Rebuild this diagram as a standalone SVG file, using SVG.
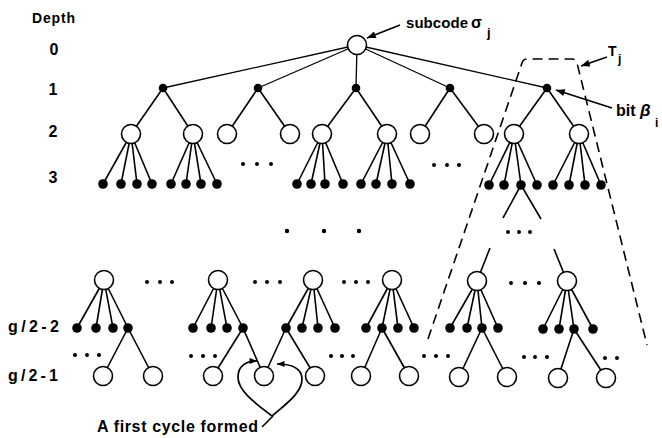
<svg xmlns="http://www.w3.org/2000/svg" width="662" height="438" viewBox="0 0 662 438">
  <style>
    text { font-family: "Liberation Sans", Arial, sans-serif; font-weight: bold; fill: #000; }
    .e { stroke: #000; stroke-width: 1.6; fill: none; }
    .et { stroke: #000; stroke-width: 1.3; fill: none; }
    .open { fill: #fff; stroke: #000; stroke-width: 1.6; }
    .dot { fill: #000; }
    .ell { fill: #000; }
    .dash { fill: none; stroke: #000; stroke-width: 1.6; stroke-dasharray: 10 6; }
    .arr { stroke: #000; stroke-width: 1.8; fill: none; marker-end: url(#ah); }
    .harr { stroke: #000; stroke-width: 1.7; fill: none; marker-end: url(#ahs); }
  </style>
  <defs>
    <marker id="ah" viewBox="0 0 10 8" refX="10" refY="4" markerWidth="10" markerHeight="7" markerUnits="userSpaceOnUse" orient="auto">
      <path d="M0,0 L10,4 L0,8 z" fill="#000"/>
    </marker>
    <marker id="ahs" viewBox="0 0 10 8" refX="10" refY="4" markerWidth="8" markerHeight="6" markerUnits="userSpaceOnUse" orient="auto">
      <path d="M0,0 L10,4 L0,8 z" fill="#000"/>
    </marker>
  </defs>

  <!-- depth scale -->
  <g id="depth-labels">
    <text x="32" y="23" font-size="14" textLength="43" lengthAdjust="spacing">Depth</text>
    <text x="54" y="55" font-size="16" text-anchor="middle">0</text>
    <text x="53" y="95" font-size="16" text-anchor="middle">1</text>
    <text x="53" y="137" font-size="16" text-anchor="middle">2</text>
    <text x="53" y="183" font-size="16" text-anchor="middle">3</text>
    <text x="8" y="332" font-size="16" textLength="51" lengthAdjust="spacing">g/2-2</text>
    <text x="8" y="381" font-size="16" textLength="50" lengthAdjust="spacing">g/2-1</text>
  </g>

  <!-- connectors -->
  <g id="connectors">
    <!-- root to depth 1 -->
    <line class="et" x1="357" y1="45" x2="163" y2="88"/>
    <line class="et" x1="357" y1="45" x2="258" y2="88"/>
    <line class="et" x1="357" y1="45" x2="356" y2="88"/>
    <line class="et" x1="357" y1="45" x2="450" y2="88"/>
    <line class="et" x1="357" y1="45" x2="547" y2="88"/>
    <!-- depth 1 to depth 2 -->
    <line class="e" x1="163" y1="88" x2="131" y2="134"/>
    <line class="e" x1="163" y1="88" x2="193" y2="134"/>
    <line class="e" x1="258" y1="88" x2="227" y2="134"/>
    <line class="e" x1="258" y1="88" x2="290" y2="134"/>
    <line class="e" x1="356" y1="88" x2="322" y2="134"/>
    <line class="e" x1="356" y1="88" x2="387" y2="134"/>
    <line class="e" x1="450" y1="88" x2="420" y2="134"/>
    <line class="e" x1="450" y1="88" x2="484" y2="134"/>
    <line class="e" x1="547" y1="88" x2="514" y2="134"/>
    <line class="e" x1="547" y1="88" x2="579" y2="134"/>
    <!-- depth 2 to depth 3 -->
    <line class="e" x1="131" y1="134" x2="103" y2="184"/>
    <line class="e" x1="131" y1="134" x2="121" y2="184"/>
    <line class="e" x1="131" y1="134" x2="137" y2="184"/>
    <line class="e" x1="131" y1="134" x2="152" y2="184"/>
    <line class="e" x1="193" y1="134" x2="171" y2="184"/>
    <line class="e" x1="193" y1="134" x2="186" y2="184"/>
    <line class="e" x1="193" y1="134" x2="201" y2="184"/>
    <line class="e" x1="193" y1="134" x2="217" y2="184"/>
    <line class="e" x1="322" y1="134" x2="297" y2="184"/>
    <line class="e" x1="322" y1="134" x2="311" y2="184"/>
    <line class="e" x1="322" y1="134" x2="325" y2="184"/>
    <line class="e" x1="322" y1="134" x2="343" y2="184"/>
    <line class="e" x1="387" y1="134" x2="361" y2="184"/>
    <line class="e" x1="387" y1="134" x2="376" y2="184"/>
    <line class="e" x1="387" y1="134" x2="392" y2="184"/>
    <line class="e" x1="387" y1="134" x2="410" y2="184"/>
    <line class="e" x1="514" y1="134" x2="489" y2="185"/>
    <line class="e" x1="514" y1="134" x2="504" y2="185"/>
    <line class="e" x1="514" y1="134" x2="521" y2="185"/>
    <line class="e" x1="514" y1="134" x2="537" y2="185"/>
    <line class="e" x1="579" y1="134" x2="553" y2="185"/>
    <line class="e" x1="579" y1="134" x2="569" y2="185"/>
    <line class="e" x1="579" y1="134" x2="585" y2="185"/>
    <line class="e" x1="579" y1="134" x2="601" y2="185"/>
    <!-- path continuing down inside T_j -->
    <line class="e" x1="521" y1="185" x2="503" y2="218"/>
    <line class="e" x1="521" y1="185" x2="541" y2="219"/>
    <line class="e" x1="490" y1="248" x2="477" y2="281"/>
    <line class="e" x1="554" y1="249" x2="567" y2="281"/>
    <!-- level g/2-3 to g/2-2 -->
    <line class="e" x1="104" y1="280" x2="77" y2="328"/>
    <line class="e" x1="104" y1="280" x2="96" y2="328"/>
    <line class="e" x1="104" y1="280" x2="113" y2="328"/>
    <line class="e" x1="104" y1="280" x2="128" y2="328"/>
    <line class="e" x1="218" y1="280" x2="193" y2="328"/>
    <line class="e" x1="218" y1="280" x2="211" y2="328"/>
    <line class="e" x1="218" y1="280" x2="227" y2="328"/>
    <line class="e" x1="218" y1="280" x2="243" y2="328"/>
    <line class="e" x1="313" y1="280" x2="286" y2="328"/>
    <line class="e" x1="313" y1="280" x2="302" y2="328"/>
    <line class="e" x1="313" y1="280" x2="318" y2="328"/>
    <line class="e" x1="313" y1="280" x2="335" y2="328"/>
    <line class="e" x1="392" y1="280" x2="366" y2="328"/>
    <line class="e" x1="392" y1="280" x2="382" y2="328"/>
    <line class="e" x1="392" y1="280" x2="398" y2="328"/>
    <line class="e" x1="392" y1="280" x2="414" y2="328"/>
    <line class="e" x1="477" y1="281" x2="450" y2="328"/>
    <line class="e" x1="477" y1="281" x2="467" y2="328"/>
    <line class="e" x1="477" y1="281" x2="482" y2="328"/>
    <line class="e" x1="477" y1="281" x2="498" y2="328"/>
    <line class="e" x1="567" y1="281" x2="543" y2="329"/>
    <line class="e" x1="567" y1="281" x2="559" y2="329"/>
    <line class="e" x1="567" y1="281" x2="574" y2="329"/>
    <line class="e" x1="567" y1="281" x2="593" y2="329"/>
    <!-- level g/2-2 to g/2-1 -->
    <line class="e" x1="128" y1="328" x2="103" y2="376"/>
    <line class="e" x1="128" y1="328" x2="153" y2="376"/>
    <line class="e" x1="243" y1="328" x2="213" y2="376"/>
    <line class="e" x1="243" y1="328" x2="264" y2="376"/>
    <line class="e" x1="286" y1="328" x2="264" y2="376"/>
    <line class="e" x1="286" y1="328" x2="315" y2="376"/>
    <line class="e" x1="382" y1="328" x2="361" y2="376"/>
    <line class="e" x1="382" y1="328" x2="409" y2="376"/>
    <line class="e" x1="482" y1="328" x2="459" y2="377"/>
    <line class="e" x1="482" y1="328" x2="507" y2="377"/>
    <line class="e" x1="574" y1="329" x2="558" y2="378"/>
    <line class="e" x1="574" y1="329" x2="606" y2="378"/>
  </g>

  <!-- subtree outline T_j -->
  <path id="Tj-outline" class="dash" d="M428,339 L522,63 Q523,59 527,59 L572,59 Q576,59 577,63 L647,345"/>

  <!-- nodes: root -->
  <g id="root"><circle class="open" cx="357" cy="45" r="9.5"/></g>

  <!-- depth 1 bits -->
  <g id="b1"><circle class="dot" cx="163" cy="88" r="4.3"/></g>
  <g id="b2"><circle class="dot" cx="258" cy="88" r="4.3"/></g>
  <g id="b3"><circle class="dot" cx="356" cy="88" r="4.3"/></g>
  <g id="b4"><circle class="dot" cx="450" cy="88" r="4.3"/></g>
  <g id="b5"><circle class="dot" cx="547" cy="88" r="4.3"/></g>

  <!-- depth 2 subcodes -->
  <g id="s1"><circle class="open" cx="131" cy="134" r="9.5"/></g>
  <g id="s2"><circle class="open" cx="193" cy="134" r="9.5"/></g>
  <g id="s3"><circle class="open" cx="227" cy="134" r="9.5"/></g>
  <g id="s4"><circle class="open" cx="290" cy="134" r="9.5"/></g>
  <g id="s5"><circle class="open" cx="322" cy="134" r="9.5"/></g>
  <g id="s6"><circle class="open" cx="387" cy="134" r="9.5"/></g>
  <g id="s7"><circle class="open" cx="420" cy="134" r="9.5"/></g>
  <g id="s8"><circle class="open" cx="484" cy="134" r="9.5"/></g>
  <g id="s9"><circle class="open" cx="514" cy="134" r="9.5"/></g>
  <g id="s10"><circle class="open" cx="579" cy="134" r="9.5"/></g>

  <!-- depth 3 bits -->
  <g id="t1"><circle class="dot" cx="103" cy="184" r="4.8"/></g>
  <g id="t2"><circle class="dot" cx="121" cy="184" r="4.8"/></g>
  <g id="t3"><circle class="dot" cx="137" cy="184" r="4.8"/></g>
  <g id="t4"><circle class="dot" cx="152" cy="184" r="4.8"/></g>
  <g id="t5"><circle class="dot" cx="171" cy="184" r="4.8"/></g>
  <g id="t6"><circle class="dot" cx="186" cy="184" r="4.8"/></g>
  <g id="t7"><circle class="dot" cx="201" cy="184" r="4.8"/></g>
  <g id="t8"><circle class="dot" cx="217" cy="184" r="4.8"/></g>
  <g id="t9"><circle class="dot" cx="297" cy="184" r="4.8"/></g>
  <g id="t10"><circle class="dot" cx="311" cy="184" r="4.8"/></g>
  <g id="t11"><circle class="dot" cx="325" cy="184" r="4.8"/></g>
  <g id="t12"><circle class="dot" cx="343" cy="184" r="4.8"/></g>
  <g id="t13"><circle class="dot" cx="361" cy="184" r="4.8"/></g>
  <g id="t14"><circle class="dot" cx="376" cy="184" r="4.8"/></g>
  <g id="t15"><circle class="dot" cx="392" cy="184" r="4.8"/></g>
  <g id="t16"><circle class="dot" cx="410" cy="184" r="4.8"/></g>
  <g id="t17"><circle class="dot" cx="489" cy="185" r="4.8"/></g>
  <g id="t18"><circle class="dot" cx="504" cy="185" r="4.8"/></g>
  <g id="t19"><circle class="dot" cx="521" cy="185" r="4.8"/></g>
  <g id="t20"><circle class="dot" cx="537" cy="185" r="4.8"/></g>
  <g id="t21"><circle class="dot" cx="553" cy="185" r="4.8"/></g>
  <g id="t22"><circle class="dot" cx="569" cy="185" r="4.8"/></g>
  <g id="t23"><circle class="dot" cx="585" cy="185" r="4.8"/></g>
  <g id="t24"><circle class="dot" cx="601" cy="185" r="4.8"/></g>

  <!-- level g/2-3 subcodes -->
  <g id="u1"><circle class="open" cx="104" cy="280" r="9.5"/></g>
  <g id="u2"><circle class="open" cx="218" cy="280" r="9.5"/></g>
  <g id="u3"><circle class="open" cx="313" cy="280" r="9.5"/></g>
  <g id="u4"><circle class="open" cx="392" cy="280" r="9.5"/></g>
  <g id="u5"><circle class="open" cx="477" cy="281" r="9.5"/></g>
  <g id="u6"><circle class="open" cx="567" cy="281" r="9.5"/></g>

  <!-- level g/2-2 bits -->
  <g id="v1"><circle class="dot" cx="77" cy="328" r="4.8"/></g>
  <g id="v2"><circle class="dot" cx="96" cy="328" r="4.8"/></g>
  <g id="v3"><circle class="dot" cx="113" cy="328" r="4.8"/></g>
  <g id="v4"><circle class="dot" cx="128" cy="328" r="4.8"/></g>
  <g id="v5"><circle class="dot" cx="193" cy="328" r="4.8"/></g>
  <g id="v6"><circle class="dot" cx="211" cy="328" r="4.8"/></g>
  <g id="v7"><circle class="dot" cx="227" cy="328" r="4.8"/></g>
  <g id="v8"><circle class="dot" cx="243" cy="328" r="4.8"/></g>
  <g id="v9"><circle class="dot" cx="286" cy="328" r="4.8"/></g>
  <g id="v10"><circle class="dot" cx="302" cy="328" r="4.8"/></g>
  <g id="v11"><circle class="dot" cx="318" cy="328" r="4.8"/></g>
  <g id="v12"><circle class="dot" cx="335" cy="328" r="4.8"/></g>
  <g id="v13"><circle class="dot" cx="366" cy="328" r="4.8"/></g>
  <g id="v14"><circle class="dot" cx="382" cy="328" r="4.8"/></g>
  <g id="v15"><circle class="dot" cx="398" cy="328" r="4.8"/></g>
  <g id="v16"><circle class="dot" cx="414" cy="328" r="4.8"/></g>
  <g id="v17"><circle class="dot" cx="450" cy="328" r="4.8"/></g>
  <g id="v18"><circle class="dot" cx="467" cy="328" r="4.8"/></g>
  <g id="v19"><circle class="dot" cx="482" cy="328" r="4.8"/></g>
  <g id="v20"><circle class="dot" cx="498" cy="328" r="4.8"/></g>
  <g id="v21"><circle class="dot" cx="543" cy="329" r="4.8"/></g>
  <g id="v22"><circle class="dot" cx="559" cy="329" r="4.8"/></g>
  <g id="v23"><circle class="dot" cx="574" cy="329" r="4.8"/></g>
  <g id="v24"><circle class="dot" cx="593" cy="329" r="4.8"/></g>

  <!-- level g/2-1 subcodes -->
  <g id="w1"><circle class="open" cx="103" cy="376" r="9.5"/></g>
  <g id="w2"><circle class="open" cx="153" cy="376" r="9.5"/></g>
  <g id="w3"><circle class="open" cx="213" cy="376" r="9.5"/></g>
  <g id="w4"><circle class="open" cx="264" cy="376" r="9.5"/></g>
  <g id="w5"><circle class="open" cx="315" cy="376" r="9.5"/></g>
  <g id="w6"><circle class="open" cx="361" cy="376" r="9.5"/></g>
  <g id="w7"><circle class="open" cx="409" cy="376" r="9.5"/></g>
  <g id="w8"><circle class="open" cx="459" cy="377" r="9.5"/></g>
  <g id="w9"><circle class="open" cx="507" cy="377" r="9.5"/></g>
  <g id="w10"><circle class="open" cx="558" cy="378" r="9.5"/></g>
  <g id="w11"><circle class="open" cx="606" cy="378" r="9.5"/></g>

  <!-- ellipsis dots -->
  <g id="ellipses">
    <circle class="ell" cx="243" cy="164" r="2"/><circle class="ell" cx="257" cy="164" r="2"/><circle class="ell" cx="271" cy="164" r="2"/>
    <circle class="ell" cx="434" cy="165" r="2"/><circle class="ell" cx="447" cy="165" r="2"/><circle class="ell" cx="459" cy="165" r="2"/>
    <circle class="ell" cx="508" cy="232" r="2"/><circle class="ell" cx="519" cy="232" r="2"/><circle class="ell" cx="530" cy="232" r="2"/>
    <circle class="ell" cx="287" cy="231" r="2.2"/><circle class="ell" cx="324" cy="231" r="2.2"/><circle class="ell" cx="359" cy="231" r="2.2"/>
    <circle class="ell" cx="147" cy="282" r="2"/><circle class="ell" cx="160" cy="282" r="2"/><circle class="ell" cx="172" cy="282" r="2"/>
    <circle class="ell" cx="255" cy="282" r="2"/><circle class="ell" cx="267" cy="282" r="2"/><circle class="ell" cx="280" cy="282" r="2"/>
    <circle class="ell" cx="344" cy="282" r="2"/><circle class="ell" cx="356" cy="282" r="2"/><circle class="ell" cx="368" cy="282" r="2"/>
    <circle class="ell" cx="511" cy="283" r="2"/><circle class="ell" cx="525" cy="283" r="2"/><circle class="ell" cx="539" cy="283" r="2"/>
    <circle class="ell" cx="75" cy="355" r="2"/><circle class="ell" cx="87" cy="355" r="2"/><circle class="ell" cx="99" cy="355" r="2"/>
    <circle class="ell" cx="191" cy="356" r="2"/><circle class="ell" cx="203" cy="356" r="2"/><circle class="ell" cx="215" cy="356" r="2"/>
    <circle class="ell" cx="331" cy="356" r="2"/><circle class="ell" cx="342" cy="356" r="2"/><circle class="ell" cx="353" cy="356" r="2"/>
    <circle class="ell" cx="424" cy="356" r="2"/><circle class="ell" cx="436" cy="356" r="2"/><circle class="ell" cx="448" cy="356" r="2"/>
    <circle class="ell" cx="524" cy="357" r="2"/><circle class="ell" cx="535" cy="357" r="2"/><circle class="ell" cx="547" cy="357" r="2"/>
    <circle class="ell" cx="605" cy="358" r="2"/><circle class="ell" cx="617" cy="358" r="2"/>
  </g>

  <!-- callouts -->
  <g id="label-subcode">
    <line class="arr" x1="400" y1="25" x2="367" y2="38"/>
    <text x="406" y="28" font-size="15" textLength="62" lengthAdjust="spacing">subcode</text>
    <text x="471" y="28" font-size="16">σ</text>
    <text x="487" y="37" font-size="13">j</text>
  </g>
  <g id="label-Tj">
    <line class="arr" x1="607" y1="57" x2="581" y2="66"/>
    <text x="608" y="56" font-size="14">T</text>
    <text x="618" y="63" font-size="12">j</text>
  </g>
  <g id="label-bit">
    <line class="arr" x1="612" y1="108" x2="556" y2="90"/>
    <text x="616" y="116" font-size="16">bit</text>
    <text x="640" y="116" font-size="17" font-style="italic">β</text>
    <text x="655" y="127" font-size="12">i</text>
  </g>
  <g id="label-cycle">
    <path class="harr" d="M272,416 C258,405 238,392 238,377 C238,366 246,361 257,361"/>
    <path class="harr" d="M272,416 C286,404 303,392 302,378 C301,368 291,364 277,364"/>
    <line class="e" x1="273" y1="416" x2="262" y2="427"/>
    <text x="97" y="432" font-size="16" textLength="161" lengthAdjust="spacing">A first cycle formed</text>
  </g>
</svg>
